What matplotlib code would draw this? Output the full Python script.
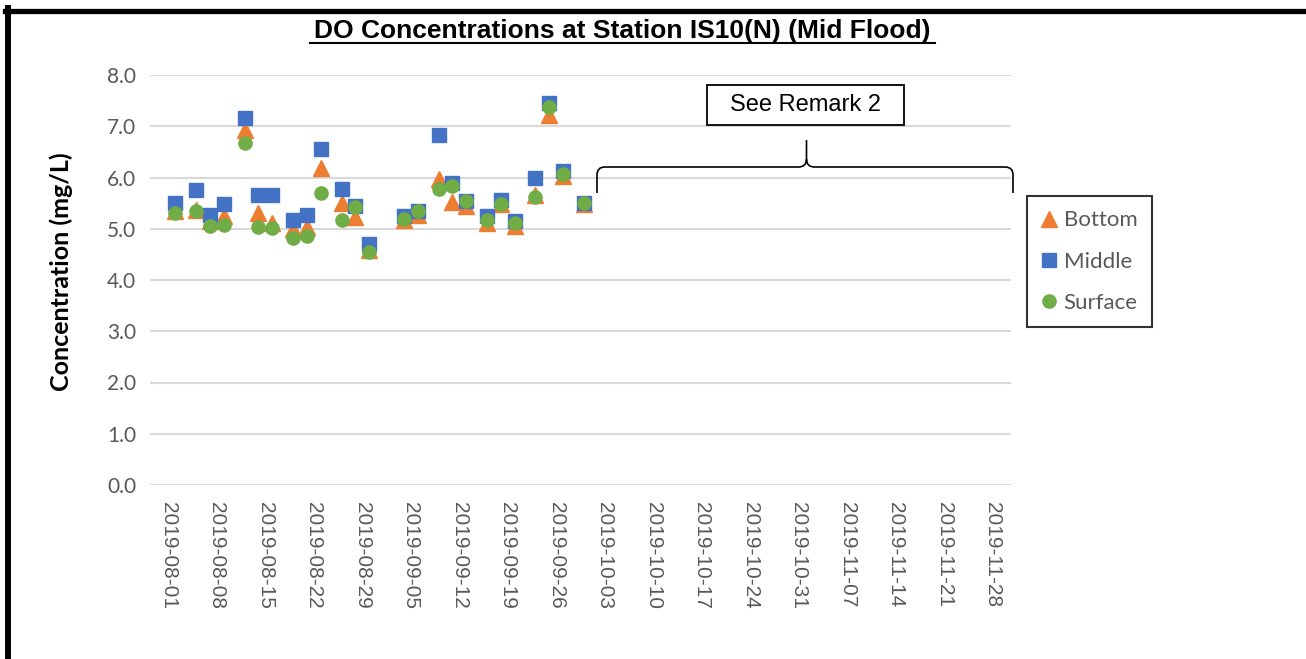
import matplotlib
matplotlib.use("Agg")
import matplotlib.pyplot as plt
import matplotlib.dates as mdates
from matplotlib.lines import Line2D
from matplotlib.patches import PathPatch, Rectangle
from matplotlib.path import Path
from datetime import date, timedelta

# sampling dates and DO readings (mg/L)
dates = ["2019-08-02", "2019-08-05", "2019-08-07", "2019-08-09", "2019-08-12",
         "2019-08-14", "2019-08-16", "2019-08-19", "2019-08-21", "2019-08-23",
         "2019-08-26", "2019-08-28", "2019-08-30", "2019-09-04", "2019-09-06",
         "2019-09-09", "2019-09-11", "2019-09-13", "2019-09-16", "2019-09-18",
         "2019-09-20", "2019-09-23", "2019-09-25", "2019-09-27", "2019-09-30"]
bottom = [5.35, 5.37, 5.15, 5.25, 6.93, 5.30, 5.12, 5.00, 5.04, 6.18, 5.51, 5.22, 4.58,
          5.17, 5.27, 5.97, 5.53, 5.45, 5.12, 5.48, 5.06, 5.66, 7.22, 6.02, 5.48]
middle = [5.50, 5.76, 5.27, 5.48, 7.17, 5.66, 5.66, 5.18, 5.27, 6.56, 5.77, 5.44, 4.70,
          5.24, 5.35, 6.82, 5.90, 5.54, 5.25, 5.56, 5.15, 6.00, 7.46, 6.13, 5.51]
surface = [5.30, 5.35, 5.06, 5.07, 6.68, 5.04, 5.02, 4.81, 4.86, 5.69, 5.18, 5.43, 4.54,
           5.20, 5.35, 5.77, 5.83, 5.54, 5.17, 5.48, 5.11, 5.61, 7.37, 6.06, 5.50]
yticks = [0, 1, 2, 3, 4, 5, 6, 7, 8]

W, H = 1306, 659
def fx(x):
    return x / W
def fy(y):
    return 1 - y / H

x = [date.fromisoformat(d) for d in dates]
tick_dates = [date(2019, 8, 1) + timedelta(days=7 * i) for i in range(18)]

fig = plt.figure(figsize=(W / 100, H / 100), dpi=100)
ax = fig.add_axes([fx(150), fy(485), fx(1011) - fx(150), fy(75) - fy(485)])

ax.plot(x, bottom, linestyle="none", marker="^", markersize=11, color="#ED7D31", label="Bottom")
ax.plot(x, middle, linestyle="none", marker="s", markersize=10, color="#4472C4", label="Middle")
ax.plot(x, surface, linestyle="none", marker="o", markersize=9.5, color="#70AD47", label="Surface")

x0 = mdates.date2num(date(2019, 8, 1))
x1 = mdates.date2num(date(2019, 11, 28))
ax.set_xlim(x0 - 2.65, x1 + 2.65)
ax.set_ylim(0, 8)
ax.set_yticks(yticks)
ax.set_yticklabels([f"{v:.1f}" for v in yticks], fontfamily="Lato", fontsize=15, color="#595959")
ax.set_xticks(tick_dates)
ax.set_xticklabels([d.isoformat() for d in tick_dates], rotation=-90,
                   fontfamily="Liberation Sans", fontsize=15, color="#595959")
ax.tick_params(length=0, pad=10)
ax.tick_params(axis="x", pad=12)
ax.grid(axis="y", color="#D9D9D9", linewidth=1.5)
ax.set_axisbelow(True)
for s in ax.spines.values():
    s.set_visible(False)

fig.text(fx(61), fy(272), "Concentration (mg/L)", rotation=90, ha="center", va="center",
         fontfamily="Lato", fontweight="bold", fontsize=18, color="black")

# title with underline
fig.text(fx(622), fy(38), "DO Concentrations at Station IS10(N) (Mid Flood)", ha="center",
         va="baseline", fontfamily=["Liberation Sans Narrow", "Liberation Sans"],
         fontweight="bold", fontsize=19)
fig.add_artist(Line2D([fx(310), fx(935)], [fy(42.5), fy(42.5)], color="black", linewidth=1.5))

# outer frame (top and left edges)
fig.add_artist(Line2D([fx(5), fx(1306)], [fy(10.5), fy(10.5)], color="black", linewidth=3.8))
fig.add_artist(Line2D([fx(8), fx(8)], [fy(8), fy(659)], color="black", linewidth=4.3))

# remark box and brace
fig.add_artist(Rectangle((fx(707), fy(125)), fx(904) - fx(707), fy(85) - fy(125),
                         facecolor="white", edgecolor="black", linewidth=1.3))
fig.text(fx(805.5), fy(105), "See Remark 2", ha="center", va="center",
         fontfamily="Liberation Sans", fontsize=17)

bx0, bx1, bm = 597, 1013, 806.5
by, btop, bbot, r = 167, 140, 193, 8
pts = [(bx0, bbot), (bx0, by + r), (bx0, by), (bx0 + r, by),
       (bm - r, by), (bm, by), (bm, by - r), (bm, btop),
       (bm, by - r), (bm, by), (bm + r, by),
       (bx1 - r, by), (bx1, by), (bx1, by + r), (bx1, bbot)]
codes = [Path.MOVETO, Path.LINETO, Path.CURVE3, Path.CURVE3,
         Path.LINETO, Path.CURVE3, Path.CURVE3, Path.LINETO,
         Path.MOVETO, Path.CURVE3, Path.CURVE3,
         Path.LINETO, Path.CURVE3, Path.CURVE3, Path.LINETO]
brace = Path([(fx(px), fy(py)) for px, py in pts], codes)
fig.add_artist(PathPatch(brace, facecolor="none", edgecolor="black", linewidth=1.2,
                         transform=fig.transFigure))

leg = ax.legend(loc="upper left", bbox_to_anchor=(fx(1027), fy(196)),
                bbox_transform=fig.transFigure, frameon=True, fancybox=False,
                prop={"family": "Lato", "size": 16}, labelcolor="#595959",
                handlelength=0.7, handletextpad=0.3, labelspacing=0.95,
                borderpad=0.65, borderaxespad=0)
leg.get_frame().set_edgecolor("black")
leg.get_frame().set_linewidth(1.5)

fig.savefig("out.png", dpi=100)
